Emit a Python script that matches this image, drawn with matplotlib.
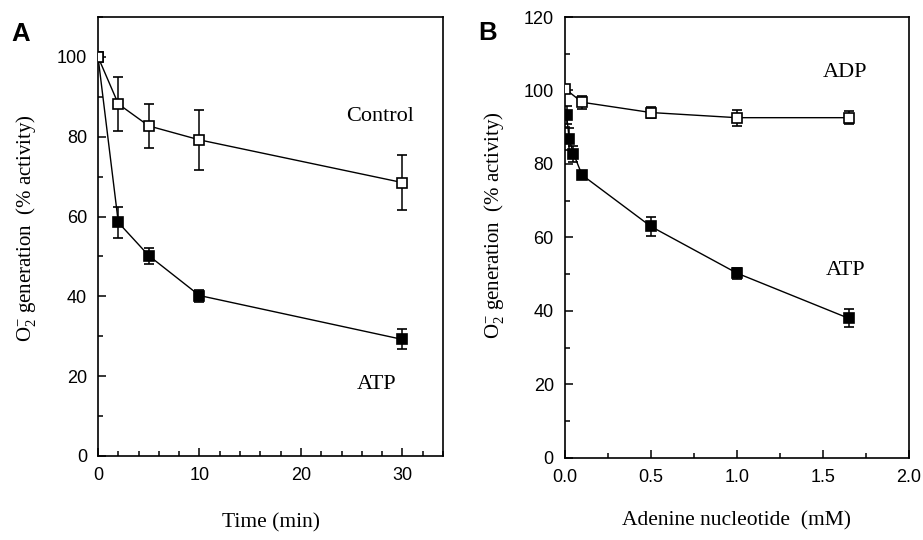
import numpy as np
import matplotlib.pyplot as plt
from matplotlib.ticker import MultipleLocator

plt.rcParams['font.family'] = ['Liberation Sans', 'DejaVu Sans']
plt.rcParams['mathtext.fontset'] = 'custom'
plt.rcParams['mathtext.rm'] = 'Liberation Serif'
plt.rcParams['mathtext.it'] = 'Liberation Serif:italic'

# Panel A: time course
time_min = [0, 2, 5, 10, 30]
control = [100, 88.2, 82.7, 79.2, 68.5]
control_err = [0, 6.8, 5.6, 7.6, 6.8]
atp_time = [100, 58.5, 50.2, 40.2, 29.2]
atp_time_err = [0, 4.0, 2.0, 1.5, 2.5]

# Panel B: concentration dependence
adp_conc = [0, 0.1, 0.5, 1.0, 1.65]
adp = [100.5, 96.8, 94.0, 92.6, 92.6]
adp_err = [0, 1.8, 1.4, 2.2, 1.8]
atp_conc = [0.01, 0.025, 0.05, 0.1, 0.5, 1.0, 1.65]
atp_dose = [93.4, 86.8, 82.8, 77.0, 63.0, 50.3, 38.0]
atp_dose_err = [2.5, 3.0, 2.2, 0.8, 2.5, 1.5, 2.5]

serif = 'Liberation Serif'
ylab = r'O$_2^{-}$ generation  (% activity)'


def style_axes(ax):
    for s in ax.spines.values():
        s.set_linewidth(1.2)
    ax.tick_params(which='both', direction='in', top=False, right=False,
                   labelsize=13, width=1.1)
    ax.tick_params(which='major', length=6, pad=8)
    ax.tick_params(which='minor', length=3.5)


def series(ax, x, y, err, face):
    ax.errorbar(x, y, yerr=err, color='black', lw=1.0, elinewidth=1.1,
                capsize=3.5, capthick=1.1, marker='s', ms=7.5,
                mfc=face, mec='black', mew=1.2, zorder=3)


fig = plt.figure(figsize=(9.23, 5.4), dpi=100)

axA = fig.add_axes([0.1062, 0.1556, 0.3738, 0.813])
series(axA, time_min, atp_time, atp_time_err, 'black')
series(axA, time_min, control, control_err, 'white')
axA.set_xlim(0, 34)
axA.set_ylim(0, 110)
axA.set_xticks([0, 10, 20, 30])
axA.set_yticks([0, 20, 40, 60, 80, 100])
axA.xaxis.set_minor_locator(MultipleLocator(2))
axA.yaxis.set_minor_locator(MultipleLocator(10))
style_axes(axA)
axA.text(27.8, 85, 'Control', family=serif, fontsize=16, ha='center', va='center')
axA.text(27.5, 18, 'ATP', family=serif, fontsize=16, ha='center', va='center')
axA.set_xlabel('Time (min)', family=serif, fontsize=15.5)
axA.xaxis.set_label_coords(0.5, -0.13)
axA.set_ylabel(ylab, family=serif, fontsize=15)
axA.yaxis.set_label_coords(-0.175, 0.52)
fig.text(0.012, 0.937, 'A', fontsize=18.5, fontweight='bold', va='center')

axB = fig.add_axes([0.612, 0.152, 0.3727, 0.8165])
series(axB, atp_conc, atp_dose, atp_dose_err, 'black')
series(axB, adp_conc, adp, adp_err, 'white')
axB.set_xlim(0, 2.0)
axB.set_ylim(0, 120)
axB.set_xticks([0, 0.5, 1.0, 1.5, 2.0])
axB.set_xticklabels(['0.0', '0.5', '1.0', '1.5', '2.0'])
axB.set_yticks([0, 20, 40, 60, 80, 100, 120])
axB.xaxis.set_minor_locator(MultipleLocator(0.25))
axB.yaxis.set_minor_locator(MultipleLocator(10))
style_axes(axB)
axB.text(1.63, 105, 'ADP', family=serif, fontsize=16, ha='center', va='center')
axB.text(1.63, 51, 'ATP', family=serif, fontsize=16, ha='center', va='center')
axB.set_xlabel('Adenine nucleotide  (mM)', family=serif, fontsize=15.5)
axB.xaxis.set_label_coords(0.5, -0.12)
axB.set_ylabel(ylab, family=serif, fontsize=15)
axB.yaxis.set_label_coords(-0.17, 0.528)
fig.text(0.518, 0.939, 'B', fontsize=18.5, fontweight='bold', va='center')

fig.savefig('out.png', dpi=100)
